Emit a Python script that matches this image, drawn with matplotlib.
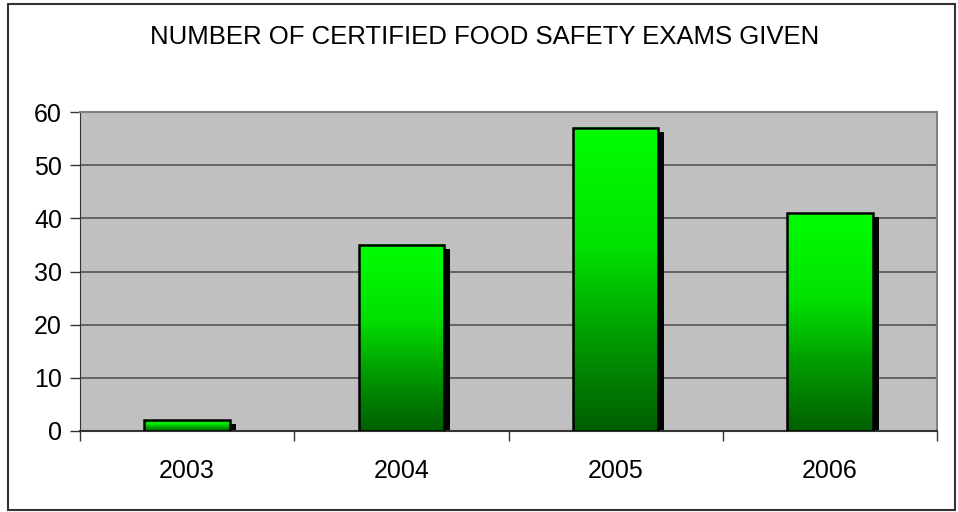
import numpy as np
import matplotlib
matplotlib.use('Agg')
import matplotlib.pyplot as plt
import matplotlib.transforms as mtransforms
from matplotlib.colors import LinearSegmentedColormap
from matplotlib.patches import Rectangle

plt.rcParams['font.family'] = ['Liberation Sans', 'DejaVu Sans']

# data
years = ['2003', '2004', '2005', '2006']
exams = [2, 35, 57, 41]

fig = plt.figure(figsize=(9.58, 5.12), dpi=100)

# outer chart border
fig.patches.append(Rectangle((8 / 958, 2 / 512), 947 / 958, 506 / 512, transform=fig.transFigure,
                             fill=False, edgecolor='#333333', linewidth=1.5))

ax = fig.add_axes([80 / 958, 81 / 512, 857 / 958, 319 / 512])
ax.set_facecolor('#C0C0C0')

# green gradient, dark at the bottom, bright at the top
green = LinearSegmentedColormap.from_list('grn', [
    (0.0, '#005F00'), (0.17, '#008000'), (0.33, '#00A000'), (0.6, '#00E000'), (1.0, '#00FF00')])
grad = np.linspace(0, 1, 256).reshape(-1, 1)

x = np.arange(len(years))
width = 0.4
bars = ax.bar(x, exams, width=width, facecolor='none', edgecolor='black', linewidth=1.8, zorder=4)

shadow_tr = mtransforms.offset_copy(ax.transData, fig=fig, x=6, y=-4, units='dots')
for b in bars:
    x0, h, w = b.get_x(), b.get_height(), b.get_width()
    ax.add_patch(Rectangle((x0, 0), w, h, facecolor='black', edgecolor='none',
                           transform=shadow_tr, zorder=2))
    ax.imshow(grad, cmap=green, origin='lower', aspect='auto',
              extent=[x0, x0 + w, 0, h], zorder=3, interpolation='bilinear')

ax.set_xlim(-0.5, len(years) - 0.5)
ax.set_ylim(0, 60)
ax.set_yticks(range(0, 61, 10))
ax.yaxis.grid(True, color='#555555', linewidth=1.2)
ax.set_axisbelow(True)

ax.set_xticks(x)
ax.set_xticklabels(years)
ax.set_xticks(np.arange(-0.5, len(years), 1), minor=True)
ax.tick_params(axis='x', which='major', length=0, pad=20, labelsize=18)
ax.tick_params(axis='x', which='minor', length=7, width=1, color='#333333')
ax.tick_params(axis='y', length=7, width=1, color='#333333', labelsize=18, pad=6)

for s in ['top', 'right']:
    ax.spines[s].set_color('#808080')
    ax.spines[s].set_linewidth(1.5)
ax.spines['left'].set_color('#333333')
ax.spines['bottom'].set_color('#333333')
ax.spines['bottom'].set_linewidth(1.5)

fig.text(485 / 958, 1 - 37 / 512, 'NUMBER OF CERTIFIED FOOD SAFETY EXAMS GIVEN',
         ha='center', va='center', fontsize=18.5)

fig.savefig('out.png', dpi=100)
